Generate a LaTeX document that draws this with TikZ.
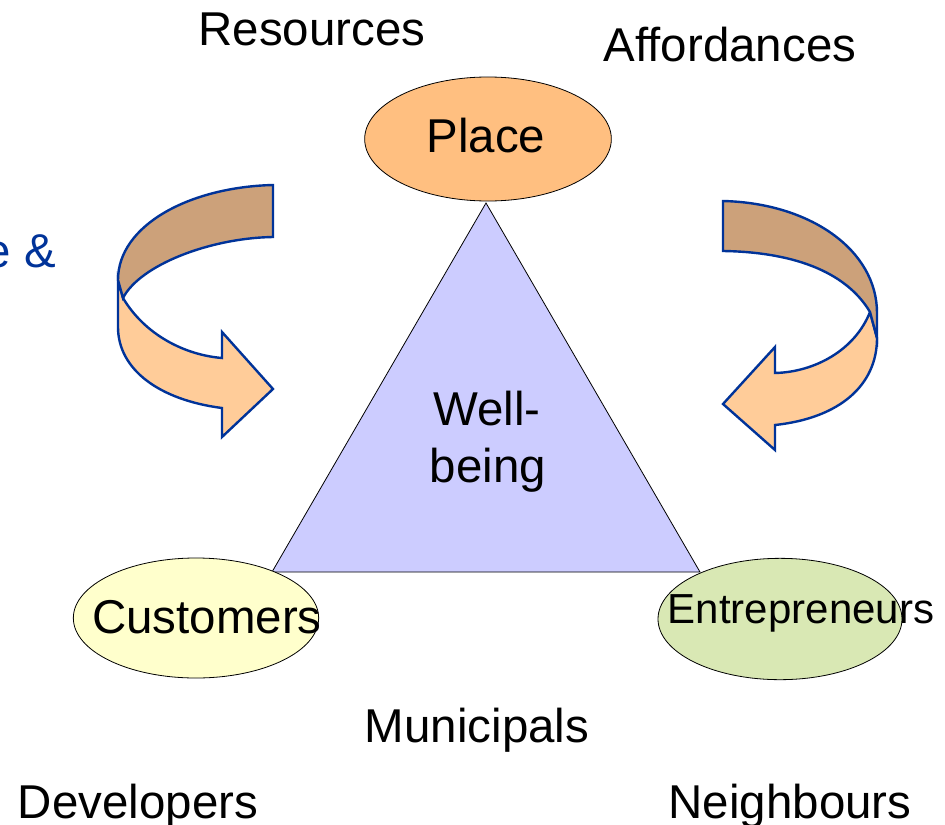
\documentclass[tikz,border=0pt]{standalone}
\usepackage{fontspec}
\setmainfont{Liberation Sans}
\usetikzlibrary{shapes.geometric}
\definecolor{placefill}{RGB}{255,191,128}
\definecolor{custfill}{RGB}{255,255,204}
\definecolor{entfill}{RGB}{217,232,180}
\definecolor{trifill}{RGB}{204,204,255}
\definecolor{backband}{RGB}{204,161,122}
\definecolor{frontband}{RGB}{255,204,153}
\definecolor{arrowline}{RGB}{0,51,153}
\tikzset{
  lbl/.style={anchor=base, inner sep=0pt, font=\fontsize{35.6}{40}\selectfont},
  oval/.style={ellipse, draw=black, line width=0.6pt, inner sep=0pt},
  band/.style={draw=arrowline, line width=1.8pt, line join=miter},
}
\begin{document}
\begin{tikzpicture}[x=0.75pt, y=-0.75pt]
\useasboundingbox (0,0) rectangle (945,824);
\fill[white] (0,0) rectangle (945,824);

% triangle
\coordinate (apex) at (486,203);
\coordinate (bl) at (272,572);
\coordinate (br) at (700,572);
\draw[fill=trifill, line width=0.6pt] (apex) -- (bl) -- (br) -- cycle;

% ellipses
\node[oval, fill=placefill, minimum width=185pt, minimum height=93pt] (place) at (488,139) {};
\node[oval, fill=custfill, minimum width=184pt, minimum height=90pt] (cust) at (196,618) {};
\node[oval, fill=entfill, minimum width=183pt, minimum height=91pt] (ent) at (780,619) {};

% left curved arrow
\draw[band, fill=frontband] (123,298) .. controls (145,335) and (185,355) .. (222,358)
  -- (222,332) -- (273,389) -- (222,437) -- (222,408)
  .. controls (160,400) and (118,370) .. (118,327) -- (118,280) -- cycle;
\draw[band, fill=backband] (273,185) .. controls (190,187) and (118,225) .. (118,280)
  -- (123,298) .. controls (140,265) and (210,238) .. (273,237) -- cycle;

% right curved arrow
\draw[band, fill=frontband] (870,312) .. controls (855,350) and (815,372) .. (775,373)
  -- (775,347) -- (723,404) -- (775,450) -- (775,425)
  .. controls (840,418) and (877,385) .. (877,338) -- cycle;
\draw[band, fill=backband] (723,201) .. controls (810,203) and (877,250) .. (877,313)
  -- (877,338) -- (870,312) .. controls (845,270) and (790,252) .. (723,251) -- cycle;

% texts
\node[lbl] (tres) at (312,46) {Resources};
\node[lbl] (taff) at (730,62) {Affordances};
\node[lbl] (tplace) at (486,152) {Place};
\node[lbl] (twell) at (487,425) {Well-};
\node[lbl] (tbeing) at (488,482) {being};
\node[lbl] (tcust) at (207,633) {Customers};
\node[lbl, font=\fontsize{31.5}{36}\selectfont] (tent) at (801,623) {Entrepreneurs};
\node[lbl] (tmun) at (477,742) {Municipals};
\node[lbl] (tdev) at (138,818) {Developers};
\node[lbl] (tnei) at (790,818) {Neighbours};
\node[lbl, anchor=base east, text=arrowline] (tamp) at (56,267) {e \&};
\end{tikzpicture}
\end{document}
